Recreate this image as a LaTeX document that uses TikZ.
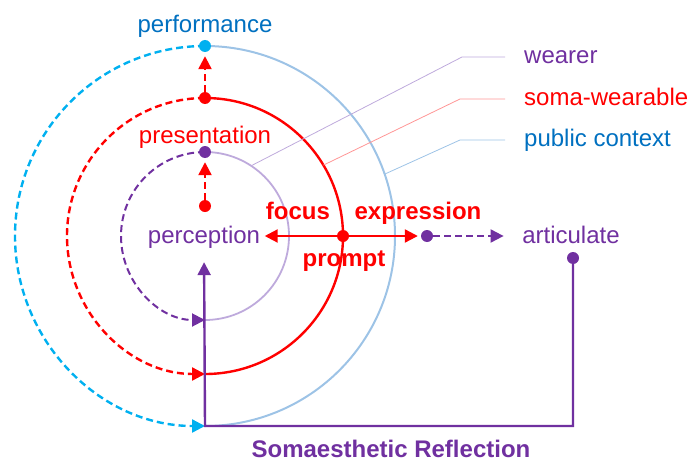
\documentclass[tikz,border=0pt]{standalone}
\usepackage{fontspec}
\setmainfont{Liberation Sans}
\usetikzlibrary{positioning, arrows.meta, calc}
\definecolor{somapurple}{RGB}{112, 48, 160}
\definecolor{somared}{RGB}{255, 0, 0}
\definecolor{somacyan}{RGB}{0, 176, 240}
\definecolor{somablue}{RGB}{0, 112, 192}
\definecolor{ringblue}{RGB}{157, 195, 230}
\definecolor{ringpurple}{RGB}{190, 170, 220}
\definecolor{leadred}{RGB}{255, 150, 150}

\tikzset{
    txt/.style={font=\fontsize{24}{28}\selectfont, inner sep=0pt},
    bold/.style={font=\fontsize{24}{28}\selectfont\bfseries, inner sep=0pt},
    dot/.style={circle, fill=#1, inner sep=0pt, minimum size=12pt},
    headtip/.style={-{Triangle[length=13pt, width=13pt]}},
    dashline/.style={dash pattern=on 7pt off 4pt},
    lead/.style={line width=0.8pt, draw=#1},
}

\begin{document}
\begin{tikzpicture}[x=1pt, y=1pt, >=stealth]
\useasboundingbox (-205,-225) rectangle (487,236);
% rings, solid halves
\draw[ringpurple, line width=1.8pt] (0,84) arc[start angle=90, end angle=-90, radius=84];
\draw[somared, line width=2.4pt] (0,138) arc[start angle=90, end angle=-90, radius=138];
\draw[ringblue, line width=2pt] (0,190) arc[start angle=90, end angle=-90, radius=190];
% rings, dashed halves
\draw[somapurple, dashline, line width=2pt, headtip] (0,84) arc[start angle=90, end angle=270, radius=84];
\draw[somared, dashline, line width=2.4pt, headtip] (0,138) arc[start angle=90, end angle=270, radius=138];
\draw[somacyan, dashline, line width=2.4pt, headtip] (0,190) arc[start angle=90, end angle=270, radius=190];

% labels
\node[txt, text=somablue, anchor=base] (performance) at (0,203) {performance};
\node[txt, text=somared, anchor=base] (presentation) at (0,93) {presentation};
\node[txt, text=somapurple, anchor=base] (perception) at (-1,-7) {perception};
\node[txt, text=somapurple, anchor=base] (articulate) at (366,-7) {articulate};
\node[bold, text=somared, anchor=base] (focus) at (93,17) {focus};
\node[bold, text=somared, anchor=base] (expression) at (213,17) {expression};
\node[bold, text=somared, anchor=base] (prompt) at (139,-30) {prompt};
\node[bold, text=somapurple, anchor=base] (reflection) at (186,-221) {Somaesthetic Reflection};

% legend
\node[txt, text=somapurple, text height=17pt, text depth=4pt, anchor=west] (wearer) at (319,179) {wearer};
\node[txt, text=somared, text height=17pt, text depth=4pt, anchor=west] (somawear) at (319,137) {soma-wearable};
\node[txt, text=somablue, text height=17pt, text depth=4pt, anchor=west] (public) at (319,96) {public context};
\draw[lead=ringpurple, shorten >=19pt] (56.7:84) -- (257,179) -- (wearer.west);
\draw[lead=leadred, shorten >=19pt] (30.9:138) -- (255,137) -- (somawear.west);
\draw[lead=ringblue, shorten >=19pt] (19:190) -- (255,96) -- (public.west);

% frame
\coordinate (corner) at (0,-190);
\coordinate (artcorner) at (368,-190);
\node[dot=somapurple] (artdot) at (368,-22) {};
\draw[somapurple, line width=2.4pt, headtip, shorten >=14pt] (artdot) -- (artcorner) -- (corner) -- (perception.south);

% dots
\node[dot=somacyan] (perfdot) at (0,190) {};
\node[dot=somared] (presdot) at (0,138) {};
\node[dot=somapurple] (weardot) at (0,84) {};
\node[dot=somared] (innerdot) at (0,30) {};
\node[dot=somared] (promptdot) at (138,0) {};
\node[dot=somapurple] (exprdot) at (222,0) {};

% arrows
\draw[somared, dashline, line width=2.4pt, headtip, shorten >=4pt] (innerdot) -- (weardot);
\draw[somared, dashline, line width=2.4pt, headtip, shorten >=4pt] (presdot) -- (perfdot);
\draw[somared, line width=2.2pt, headtip, shorten >=4.5pt] (promptdot) -- (perception.east |- promptdot);
\draw[somared, line width=2.2pt, headtip, shorten >=3pt] (promptdot) -- (exprdot);
\draw[somapurple, dashline, line width=2pt, headtip, shorten >=18.5pt] (exprdot) -- (exprdot -| articulate.west);
\end{tikzpicture}
\end{document}
